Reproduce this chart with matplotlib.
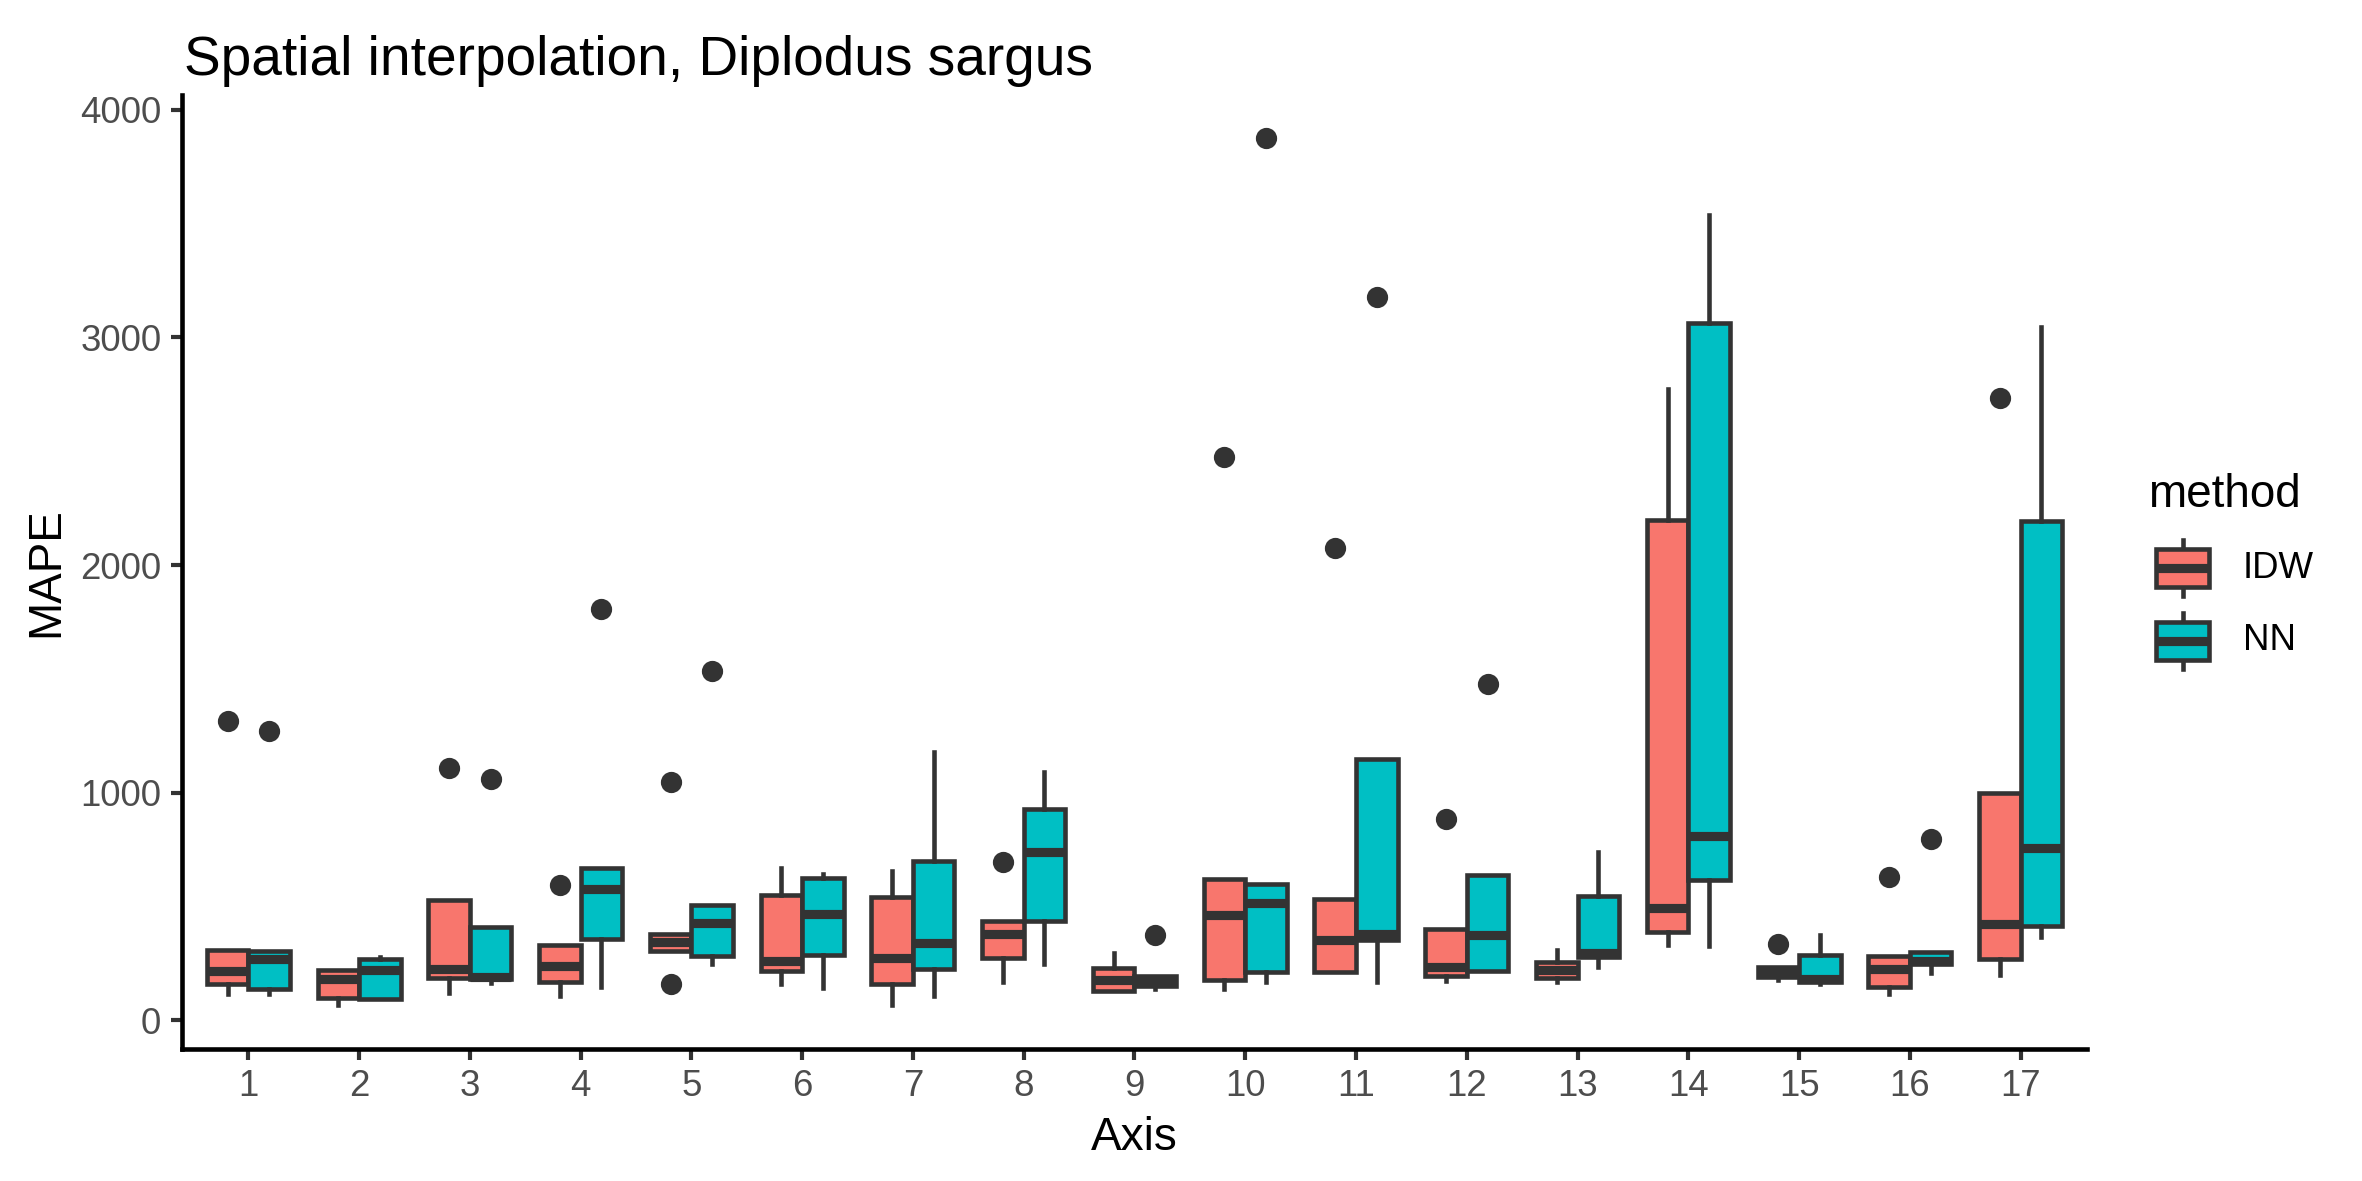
import matplotlib
matplotlib.use('Agg')
import matplotlib.pyplot as plt
from matplotlib.patches import Rectangle

plt.rcParams['font.family'] = ['Liberation Sans', 'DejaVu Sans']

# box statistics (MAPE per axis)
axes_ids = list(range(1, 18))
methods = ['IDW', 'NN']
fill_colors = {'IDW': '#F8766D', 'NN': '#00BFC4'}

idw_q1 = [160, 99, 185, 169, 304, 217, 160, 273, 127, 177, 211, 194, 186, 386, 189, 146, 268]
idw_med = [217, 180, 225, 239, 345, 259, 273, 380, 177, 462, 352, 234, 220, 493, 208, 225, 423]
idw_q3 = [310, 220, 530, 332, 380, 552, 541, 434, 231, 620, 532, 400, 254, 2197, 234, 282, 1000]
idw_lo = [113, 65, 118, 107, 304, 158, 65, 166, 127, 135, 211, 172, 169, 330, 175, 113, 197]
idw_hi = [310, 220, 530, 332, 380, 668, 654, 434, 293, 620, 532, 400, 310, 2772, 234, 282, 1000]
idw_out = [[1315], [], [1107], [592], [1045, 160], [], [], [693], [], [2476],
           [2073], [885], [], [], [335], [631], [2732]]

nn_q1 = [135, 93, 180, 355, 282, 287, 225, 434, 152, 211, 352, 217, 276, 614, 169, 245, 414]
nn_med = [268, 220, 189, 577, 428, 465, 338, 738, 172, 513, 380, 375, 293, 811, 183, 262, 755]
nn_q3 = [304, 268, 411, 668, 507, 623, 699, 930, 192, 600, 1149, 637, 546, 3065, 287, 299, 2192]
nn_lo = [113, 93, 163, 146, 245, 141, 104, 245, 135, 169, 166, 217, 234, 324, 160, 206, 366]
nn_hi = [304, 276, 411, 668, 507, 642, 1177, 1090, 192, 600, 1149, 637, 738, 3538, 372, 299, 3048]
nn_out = [[1270], [], [1059], [1806], [1535], [], [], [], [372], [3876],
          [3177], [1479], [], [], [], [794], []]

series = {
    'IDW': (idw_q1, idw_med, idw_q3, idw_lo, idw_hi, idw_out),
    'NN': (nn_q1, nn_med, nn_q3, nn_lo, nn_hi, nn_out),
}

EDGE = '#333333'
DODGE = 0.75
BOX_W = DODGE / 2
LW = 1.1

fig = plt.figure(figsize=(2362 / 300, 1181 / 300), dpi=300)
ax = fig.add_axes([0.077, 0.112, 0.8066, 0.8078])

all_vals = []
for k, m in enumerate(methods):
    q1, med, q3, lo, hi, out = series[m]
    stats = []
    for i in range(len(axes_ids)):
        stats.append(dict(q1=q1[i], med=med[i], q3=q3[i], whislo=lo[i],
                          whishi=hi[i], fliers=out[i]))
        all_vals += [lo[i], hi[i]] + out[i]
    offset = (k - 0.5) * BOX_W
    pos = [a + offset for a in axes_ids]
    ax.bxp(stats, positions=pos, widths=BOX_W, patch_artist=True,
           showcaps=False, manage_ticks=False,
           boxprops=dict(facecolor=fill_colors[m], edgecolor=EDGE, linewidth=LW),
           whiskerprops=dict(color=EDGE, linewidth=LW),
           medianprops=dict(color=EDGE, linewidth=2.2, solid_capstyle='butt'),
           flierprops=dict(marker='o', markersize=4.1, markerfacecolor=EDGE,
                           markeredgecolor=EDGE, linestyle='none'))

ymin, ymax = min(all_vals), max(all_vals)
pad = 0.05 * (ymax - ymin)
ax.set_ylim(ymin - pad, ymax + pad)
ax.set_xlim(0.4, len(axes_ids) + 0.6)
ax.set_xticks(axes_ids)
ax.set_xticklabels([str(a) for a in axes_ids])
ax.set_yticks([0, 1000, 2000, 3000, 4000])
ax.set_yticklabels(['0', '1000', '2000', '3000', '4000'])

for side in ['top', 'right']:
    ax.spines[side].set_visible(False)
for side in ['left', 'bottom']:
    ax.spines[side].set_color('black')
    ax.spines[side].set_linewidth(1.1)
ax.tick_params(axis='both', length=2.75, width=1.0, color=EDGE,
               labelcolor='#4D4D4D', labelsize=8.8, pad=2.2)

ax.set_xlabel('Axis', fontsize=11, color='black', labelpad=2.75)
ax.set_ylabel('MAPE', fontsize=11, color='black', labelpad=2.75)
fig.text(184 / 2362, 1 - 75 / 1181, 'Spatial interpolation, Diplodus sargus',
         fontsize=13.2, color='black', ha='left', va='baseline')

# legend drawn in pixel space on an overlay
lax = fig.add_axes([0, 0, 1, 1])
lax.set_xlim(0, 2362)
lax.set_ylim(1181, 0)
lax.axis('off')
lax.text(2148, 507, 'method', fontsize=11, color='black', ha='left', va='baseline')
for j, m in enumerate(methods):
    cy = 568 + j * 73
    lax.plot([2182.5, 2182.5], [cy - 28, cy + 28], color=EDGE, lw=LW)
    lax.add_patch(Rectangle((2156, cy - 19), 53, 38, facecolor=fill_colors[m],
                            edgecolor=EDGE, lw=LW, zorder=3))
    lax.plot([2156, 2209], [cy, cy], color=EDGE, lw=2.2, zorder=4,
             solid_capstyle='butt')
    lax.text(2243, cy, m, fontsize=8.8, color='black', ha='left', va='center')

fig.savefig('out.png', dpi=300)
